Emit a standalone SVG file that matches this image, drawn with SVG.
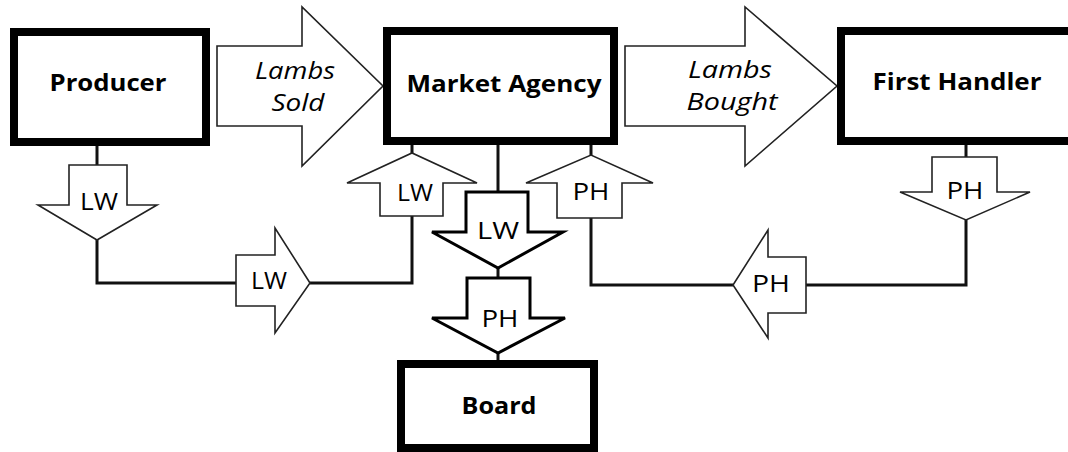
<svg xmlns="http://www.w3.org/2000/svg" width="1068" height="452" viewBox="0 0 1068 452">
<style>
.box{fill:#fff;stroke:#000;stroke-width:8}
.arr{fill:#fff;stroke:#222;stroke-width:1.6;stroke-linejoin:miter}
.arrb{fill:#fff;stroke:#000;stroke-width:3;stroke-linejoin:miter}
.con{fill:none;stroke:#111;stroke-width:3}
.t{font-family:"Open Sans","Liberation Sans",sans-serif;font-weight:bold;font-size:24px;fill:#000;text-anchor:middle}
.i{font-family:"Open Sans","Liberation Sans",sans-serif;font-style:italic;font-size:23px;fill:#000;text-anchor:middle}
.l{font-family:"Open Sans","Liberation Sans",sans-serif;font-size:23px;fill:#000;text-anchor:middle}
</style>
<rect width="1068" height="452" fill="#fff"/>
<g id="connectors">
<path class="con" d="M97,146 V165"/>
<path class="con" d="M97,240 V283 H236"/>
<path class="con" d="M310,283 H412 V216"/>
<path class="con" d="M412,145 V153"/>
<path class="con" d="M498,145 V192"/>
<path class="con" d="M498,268 V278"/>
<path class="con" d="M498,353 V361"/>
<path class="con" d="M591,145 V155"/>
<path class="con" d="M591,218 V285 H733"/>
<path class="con" d="M806,285 H966 V220"/>
<path class="con" d="M966,145 V157"/>
</g>
<g id="lambs-sold">
<polygon class="arr" points="217,46 302,46 302,7 383,86 302,166 302,126 217,126"/>
<text class="i" x="295" y="79" textLength="80" lengthAdjust="spacingAndGlyphs">Lambs</text>
<text class="i" x="298" y="111" textLength="53" lengthAdjust="spacingAndGlyphs">Sold</text>
</g>
<g id="lambs-bought">
<polygon class="arr" points="625,46 745,46 745,7 837,86 745,166 745,126 625,126"/>
<text class="i" x="730" y="78" textLength="84" lengthAdjust="spacingAndGlyphs">Lambs</text>
<text class="i" x="732" y="110" textLength="91" lengthAdjust="spacingAndGlyphs">Bought</text>
</g>
<g id="producer">
<rect class="box" x="14" y="32" width="192" height="110"/>
<text class="t" x="108" y="91" textLength="117" lengthAdjust="spacingAndGlyphs">Producer</text>
</g>
<g id="market-agency">
<rect class="box" x="387" y="31" width="227" height="110"/>
<text class="t" x="504" y="92" textLength="195" lengthAdjust="spacingAndGlyphs">Market Agency</text>
</g>
<g id="first-handler">
<rect class="box" x="841" y="31" width="240" height="110"/>
<text class="t" x="957" y="90" textLength="169" lengthAdjust="spacingAndGlyphs">First Handler</text>
</g>
<g id="board">
<rect class="box" x="401" y="364" width="193" height="84"/>
<text class="t" x="499" y="414" textLength="75" lengthAdjust="spacingAndGlyphs">Board</text>
</g>
<g id="lw-producer">
<polygon class="arr" points="69,165 127,165 127,205 157,205 97,240 38,205 69,205"/>
<text class="l" x="99" y="210" textLength="38" lengthAdjust="spacingAndGlyphs">LW</text>
</g>
<g id="lw-right">
<polygon class="arr" points="236,255 275,255 275,228 310,283 275,333 275,306 236,306"/>
<text class="l" x="269" y="289" textLength="36" lengthAdjust="spacingAndGlyphs">LW</text>
</g>
<g id="lw-up">
<polygon class="arr" points="380,216 380,183 347,183 412,153 477,183 443,183 443,216"/>
<text class="l" x="415" y="201" textLength="36" lengthAdjust="spacingAndGlyphs">LW</text>
</g>
<g id="lw-down-main">
<polygon class="arrb" points="466,192 528,192 528,232 563,232 498,268 432,232 466,232"/>
<text class="l" x="498" y="239" textLength="42" lengthAdjust="spacingAndGlyphs">LW</text>
</g>
<g id="ph-down-board">
<polygon class="arrb" points="467,278 530,278 530,318 565,318 498,353 432,318 467,318"/>
<text class="l" x="500" y="327" textLength="37" lengthAdjust="spacingAndGlyphs">PH</text>
</g>
<g id="ph-up">
<polygon class="arr" points="557,218 557,183 526,183 591,155 653,183 622,183 622,218"/>
<text class="l" x="591" y="200" textLength="37" lengthAdjust="spacingAndGlyphs">PH</text>
</g>
<g id="ph-left">
<polygon class="arr" points="806,257 806,313 768,313 768,338 733,285 768,230 768,257"/>
<text class="l" x="771" y="292" textLength="38" lengthAdjust="spacingAndGlyphs">PH</text>
</g>
<g id="ph-down-handler">
<polygon class="arr" points="932,157 997,157 997,192 1030,192 966,220 900,192 932,192"/>
<text class="l" x="965" y="199" textLength="37" lengthAdjust="spacingAndGlyphs">PH</text>
</g>
</svg>
